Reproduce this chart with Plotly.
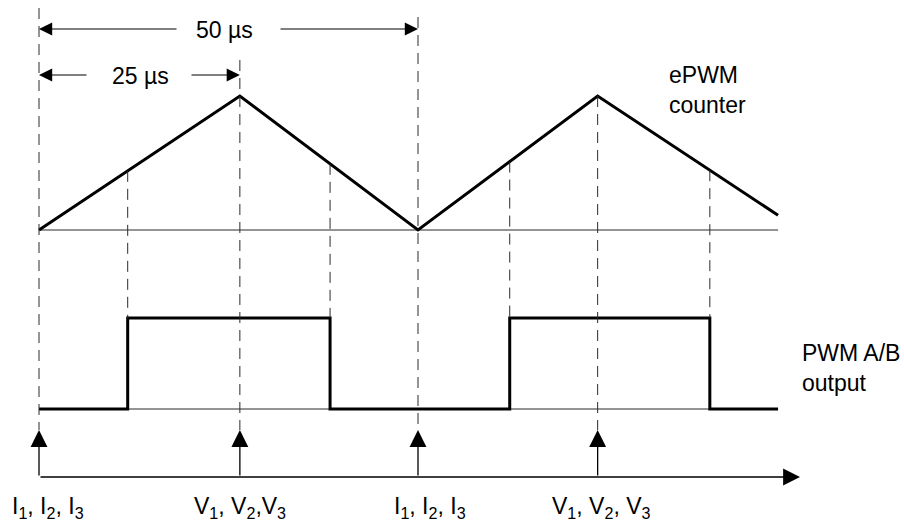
import plotly.graph_objects as go
import numpy as np

# ---------------- data (time in µs) ----------------
counter_t = [0, 26.5, 50, 73.7, 97.5]
counter_v = [0, 1, 0, 1, 0.11]
pwm_t = [0, 11.7, 38.4, 62.1, 88.5, 97.5]
pwm_v = [0, 1, 0, 1, 0, 0]
edge_t = [11.7, 38.4, 62.1, 88.5]
sample_t = [0, 26.5, 50, 73.7]
sample_labels = [
    "I<sub>1</sub>, I<sub>2</sub>, I<sub>3</sub>",
    "V<sub>1</sub>, V<sub>2</sub>,V<sub>3</sub>",
    "I<sub>1</sub>, I<sub>2</sub>, I<sub>3</sub>",
    "V<sub>1</sub>, V<sub>2</sub>, V<sub>3</sub>",
]
dim_labels = ["50 µs", "25 µs"]
dim_end_t = [50, 26.5]

# ---------------- layout constants (pixels) ----------------
W, H = 904, 522
X0_PX, PX_PER_US = 39, 7.58
CNT_BASE_PX, CNT_TOP_PX = 230, 96
PWM_LOW_PX, PWM_HIGH_PX = 409, 318
PAD = 0.1
FONT = "Liberation Sans, Arial, sans-serif"
FS = 23
INK = "#000000"
DASH_C = "#2a2a2a"
THIN_C = "#2a2a2a"


def to_px(t):
    return X0_PX + t * PX_PER_US


def axis_domain(lo_px, hi_px):
    unit = lo_px - hi_px
    bottom = lo_px + PAD * unit
    top = hi_px - PAD * unit
    return [1 - bottom / H, 1 - top / H]


def cnt_px(v):
    return CNT_BASE_PX - v * (CNT_BASE_PX - CNT_TOP_PX)


fig = go.Figure()

t_end = counter_t[-1]
# thin baselines
fig.add_trace(go.Scatter(x=[0, t_end], y=[0, 0], mode="lines", xaxis="x", yaxis="y",
                         line=dict(color=THIN_C, width=1), hoverinfo="skip"))
fig.add_trace(go.Scatter(x=[0, t_end], y=[0, 0], mode="lines", xaxis="x", yaxis="y2",
                         line=dict(color=THIN_C, width=1), hoverinfo="skip"))
# ePWM counter
fig.add_trace(go.Scatter(x=counter_t, y=counter_v, mode="lines", xaxis="x", yaxis="y",
                         line=dict(color=INK, width=3)))
# PWM output
fig.add_trace(go.Scatter(x=pwm_t, y=pwm_v, mode="lines", xaxis="x", yaxis="y2",
                         line=dict(color=INK, width=3, shape="hv")))

shapes = []
# dashed verticals at sample instants
dash_top = [8, 60, 17, cnt_px(1)]
for t, top in zip(sample_t, dash_top):
    shapes.append(dict(type="line", xref="x", yref="y3", x0=t, x1=t, y0=top, y1=430,
                       line=dict(color=DASH_C, width=1, dash="11px,7px")))
# dashed verticals at PWM edges (from counter line down to PWM high level)
for t in edge_t:
    v = float(np.interp(t, counter_t, counter_v))
    shapes.append(dict(type="line", xref="x", yref="y3", x0=t, x1=t, y0=cnt_px(v), y1=PWM_HIGH_PX,
                       line=dict(color=DASH_C, width=1, dash="11px,7px")))

annotations = []
# bottom time axis with arrow
AX_Y = 477
annotations.append(dict(xref="x2", yref="y3", axref="x2", ayref="y3", x=800, y=AX_Y,
                        ax=X0_PX, ay=AX_Y, showarrow=True, arrowhead=2, arrowsize=2.6,
                        arrowwidth=1.3, arrowcolor=INK, text="", standoff=0))
# sampling arrows
for t, lab in zip(sample_t, sample_labels):
    annotations.append(dict(xref="x", yref="y3", axref="x", ayref="y3", x=t, y=430,
                            ax=t, ay=AX_Y, showarrow=True, arrowhead=2, arrowsize=2.6,
                            arrowwidth=1.3, arrowcolor=INK, text="", standoff=0))
label_left_px = [10, 192, 392, 550]
for lab, xl in zip(sample_labels, label_left_px):
    annotations.append(dict(xref="x2", yref="y3", x=xl, y=507, text=lab, showarrow=False,
                            xanchor="left", yanchor="middle", font=dict(family=FONT, size=FS, color=INK)))

# dimension arrows
dim_y = [29, 75]
dim_gap = [(178, 279), (88, 190)]
dim_text_x = [224, 140]
for lab, te, y, (g0, g1), tx in zip(dim_labels, dim_end_t, dim_y, dim_gap, dim_text_x):
    annotations.append(dict(xref="x2", yref="y3", axref="x2", ayref="y3", x=to_px(0), y=y,
                            ax=g0, ay=y, showarrow=True, arrowhead=2, arrowsize=2.2,
                            arrowwidth=1.2, arrowcolor=INK, text="", standoff=0))
    annotations.append(dict(xref="x2", yref="y3", axref="x2", ayref="y3", x=to_px(te), y=y,
                            ax=g1, ay=y, showarrow=True, arrowhead=2, arrowsize=2.2,
                            arrowwidth=1.2, arrowcolor=INK, text="", standoff=0))
    annotations.append(dict(xref="x2", yref="y3", x=tx, y=y + 1, text=lab, showarrow=False,
                            xanchor="center", yanchor="middle", font=dict(family=FONT, size=FS, color=INK)))

# trace labels
annotations.append(dict(xref="x2", yref="y3", x=667, y=90, text="ePWM<br>counter", showarrow=False,
                        xanchor="left", yanchor="middle", align="left",
                        font=dict(family=FONT, size=FS, color=INK)))
annotations.append(dict(xref="x2", yref="y3", x=800, y=368, text="PWM A/B<br>output", showarrow=False,
                        xanchor="left", yanchor="middle", align="left",
                        font=dict(family=FONT, size=FS, color=INK)))

hidden = dict(visible=False, showgrid=False, zeroline=False, fixedrange=True)
fig.update_layout(
    width=W, height=H, margin=dict(l=0, r=0, t=0, b=0),
    paper_bgcolor="white", plot_bgcolor="rgba(0,0,0,0)", showlegend=False,
    xaxis=dict(hidden, domain=[0, 1], range=[-X0_PX / PX_PER_US, (W - X0_PX) / PX_PER_US], anchor="y"),
    yaxis=dict(hidden, domain=axis_domain(CNT_BASE_PX, CNT_TOP_PX), range=[-PAD, 1 + PAD], anchor="x"),
    yaxis2=dict(hidden, domain=axis_domain(PWM_LOW_PX, PWM_HIGH_PX), range=[-PAD, 1 + PAD], anchor="x"),
    xaxis2=dict(hidden, domain=[0, 1], range=[0, W], anchor="y3"),
    yaxis3=dict(hidden, domain=[0, 1], range=[H, 0], anchor="x2"),
    shapes=shapes, annotations=annotations,
    font=dict(family=FONT, size=FS, color=INK),
)

fig.write_html("out.html", config={"displayModeBar": False},
               post_script="document.body.style.margin='0';document.body.style.overflow='hidden';")
